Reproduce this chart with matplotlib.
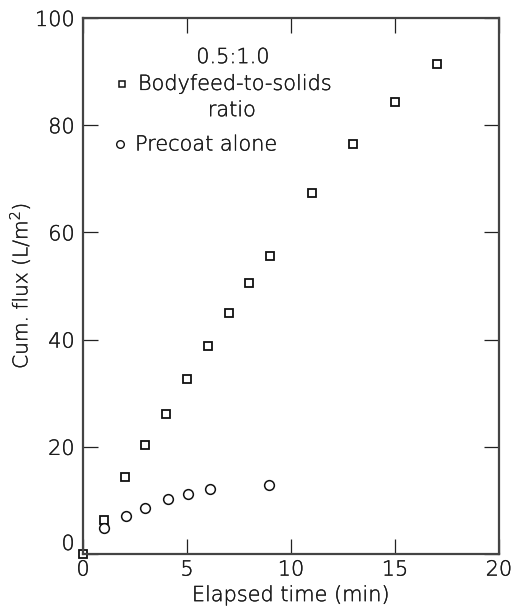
import matplotlib
matplotlib.use("Agg")
import matplotlib.pyplot as plt
import matplotlib.patheffects as pe

plt.rcParams['font.family'] = ['DejaVu Sans']
plt.rcParams['font.weight'] = 'light'
plt.rcParams['axes.labelweight'] = 'light'
plt.rcParams['mathtext.default'] = 'regular'

# Data
bodyfeed_t = [0, 1, 2, 3, 4, 5, 6, 7, 8, 9, 11, 13, 15, 17]
bodyfeed_flux = [0.0, 6.3, 14.3, 20.3, 26.2, 32.6, 38.8, 45.0, 50.6, 55.6, 67.4, 76.4, 84.3, 91.5]
precoat_t = [1, 2.05, 3.0, 4.1, 5.05, 6.1, 8.95]
precoat_flux = [4.9, 7.0, 8.6, 10.2, 11.25, 12.1, 12.8]

xticks = [0, 5, 10, 15, 20]
yticks = [0, 20, 40, 60, 80, 100]

tc = '#1a1a1a'
effects = [pe.withStroke(linewidth=0.25, foreground=tc)]

fig = plt.figure(figsize=(5.16, 6.08), dpi=100)
ax = fig.add_axes([0.1609, 0.0888, 0.8061, 0.8816])

ax.plot(bodyfeed_t, bodyfeed_flux, linestyle='none', marker='s', markersize=6.2,
        markerfacecolor='white', markeredgecolor='#111111', markeredgewidth=1.3, clip_on=False)
ax.plot(precoat_t, precoat_flux, linestyle='none', marker='o', markersize=7,
        markerfacecolor='white', markeredgecolor='#111111', markeredgewidth=1.1, clip_on=False)

ax.set_xlim(0, 20)
ax.set_ylim(0, 100)
ax.set_xticks(xticks)
ax.set_yticks(yticks)
ax.tick_params(direction='in', length=11, width=0.9, color='#222222',
               top=True, right=True, labelsize=15, labelcolor=tc)
ax.tick_params(axis='x', pad=4)
ax.tick_params(axis='y', pad=6)
for s in ax.spines.values():
    s.set_linewidth(1.6)
    s.set_color('#444444')

ax.set_xlabel('Elapsed time (min)', fontsize=15, color=tc, labelpad=4)
ax.set_ylabel('Cum. flux (L/m$^2$)', fontsize=14.5, color=tc, labelpad=2)

fig.canvas.draw()
ylabels = ax.get_yticklabels()
ylabels[0].set_va('bottom')

# Legend-like annotation
texts = []
texts.append(ax.text(7.2, 92.7, '0.5:1.0', fontsize=15, ha='center', va='center', color=tc))
ax.plot([1.875], [87.7], linestyle='none', marker='s', markersize=5, markerfacecolor='white',
        markeredgecolor='#111111', markeredgewidth=1.1)
texts.append(ax.text(2.64, 87.7, 'Bodyfeed-to-solids', fontsize=15, ha='left', va='center', color=tc))
texts.append(ax.text(7.16, 82.8, 'ratio', fontsize=15, ha='center', va='center', color=tc))
ax.plot([1.78], [76.4], linestyle='none', marker='o', markersize=5.5, markerfacecolor='white',
        markeredgecolor='#111111', markeredgewidth=1.0)
texts.append(ax.text(2.5, 76.4, 'Precoat alone', fontsize=15, ha='left', va='center', color=tc))

for t in texts + ax.get_xticklabels() + ax.get_yticklabels() + [ax.xaxis.label, ax.yaxis.label]:
    t.set_path_effects(effects)

fig.savefig('out.png', dpi=100)
